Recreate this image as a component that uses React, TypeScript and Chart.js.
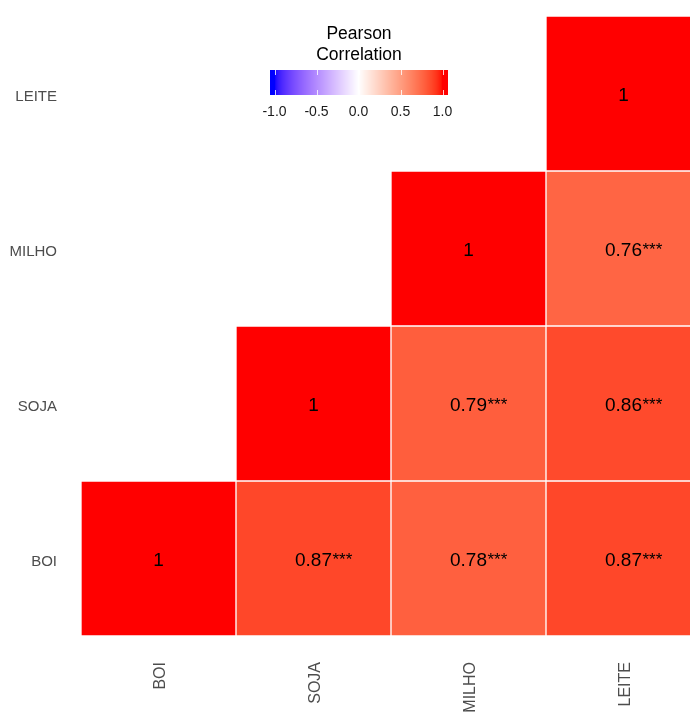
import React, { useEffect, useRef } from "react";
import { Chart, registerables } from "chart.js";

Chart.register(...registerables);

// ---- data ----
const columns = ["BOI", "SOJA", "MILHO", "LEITE"];
const rowNames = ["BOI", "SOJA", "MILHO", "LEITE"];
const corrBOI: (number | null)[] = [1, 0.87, 0.78, 0.87];
const corrSOJA: (number | null)[] = [null, 1, 0.79, 0.86];
const corrMILHO: (number | null)[] = [null, null, 1, 0.76];
const corrLEITE: (number | null)[] = [null, null, null, 1];
const sigBOI = ["", "***", "***", "***"];
const sigSOJA = ["", "", "***", "***"];
const sigMILHO = ["", "", "", "***"];
const sigLEITE = ["", "", "", ""];
const legendTicks = [-1, -0.5, 0, 0.5, 1];
const legendTickLabels = ["-1.0", "-0.5", "0.0", "0.5", "1.0"];
const legendTitle = ["Pearson", "Correlation"];

const rowValues = [corrBOI, corrSOJA, corrMILHO, corrLEITE];
const rowSig = [sigBOI, sigSOJA, sigMILHO, sigLEITE];

// ---- colour (Lab interpolation, blue - white - red) ----
function toLin(c: number) {
  c /= 255;
  return c <= 0.04045 ? c / 12.92 : Math.pow((c + 0.055) / 1.055, 2.4);
}
function toSrgb(c: number) {
  c = Math.min(1, Math.max(0, c));
  const v = c <= 0.0031308 ? 12.92 * c : 1.055 * Math.pow(c, 1 / 2.4) - 0.055;
  return Math.round(v * 255);
}
const Xn = 0.95047, Yn = 1, Zn = 1.08883;
function rgbToLab(r: number, g: number, b: number) {
  const R = toLin(r), G = toLin(g), B = toLin(b);
  const X = 0.4124 * R + 0.3576 * G + 0.1805 * B;
  const Y = 0.2126 * R + 0.7152 * G + 0.0722 * B;
  const Z = 0.0193 * R + 0.1192 * G + 0.9505 * B;
  const f = (t: number) => (t > 0.008856 ? Math.cbrt(t) : 7.787 * t + 16 / 116);
  const fx = f(X / Xn), fy = f(Y / Yn), fz = f(Z / Zn);
  return [116 * fy - 16, 500 * (fx - fy), 200 * (fy - fz)];
}
function labToRgb(L: number, a: number, b: number) {
  const fy = (L + 16) / 116, fx = fy + a / 500, fz = fy - b / 200;
  const fi = (t: number) => (t > 0.206893 ? t * t * t : (t - 16 / 116) / 7.787);
  const X = Xn * fi(fx), Y = Yn * fi(fy), Z = Zn * fi(fz);
  const R = 3.2406 * X - 1.5372 * Y - 0.4986 * Z;
  const G = -0.9689 * X + 1.8758 * Y + 0.0415 * Z;
  const B = 0.0557 * X - 0.204 * Y + 1.057 * Z;
  return `rgb(${toSrgb(R)},${toSrgb(G)},${toSrgb(B)})`;
}
const LAB_LOW = rgbToLab(0, 0, 255);
const LAB_MID = rgbToLab(255, 255, 255);
const LAB_HIGH = rgbToLab(255, 0, 0);
function corrColor(v: number) {
  v = Math.max(-1, Math.min(1, v));
  const end = v >= 0 ? LAB_HIGH : LAB_LOW;
  const t = Math.abs(v);
  return labToRgb(
    LAB_MID[0] + (end[0] - LAB_MID[0]) * t,
    LAB_MID[1] + (end[1] - LAB_MID[1]) * t,
    LAB_MID[2] + (end[2] - LAB_MID[2]) * t
  );
}

const FONT = "'Liberation Sans', Arial, sans-serif";

const cellLabelPlugin = {
  id: "cellLabels",
  afterDatasetsDraw(chart: any) {
    const ctx = chart.ctx;
    const xs = chart.scales.x, ys = chart.scales.y;
    ctx.save();
    ctx.fillStyle = "#000000";
    ctx.textBaseline = "middle";
    rowValues.forEach((vals, i) => {
      vals.forEach((v, j) => {
        if (v == null) return;
        const cx = xs.getPixelForValue(j);
        const cy = ys.getPixelForValue(i) + 2.5;
        const txt = String(v);
        ctx.font = `19px ${FONT}`;
        ctx.textAlign = "center";
        ctx.fillText(txt, cx, cy);
        const sig = rowSig[i][j];
        if (sig) {
          const w = ctx.measureText(txt).width;
          ctx.font = `17px ${FONT}`;
          ctx.textAlign = "left";
          ctx.fillText(sig, cx + w / 2 + 0.5, cy - 1);
        }
      });
    });
    ctx.restore();
  },
};

const colorbarPlugin = {
  id: "colorbar",
  afterDraw(chart: any) {
    const ctx = chart.ctx;
    const barLeft = 270, barRight = 448, barTop = 70, barBottom = 95;
    const vMinPx = 274.5, vMaxPx = 442.5;
    const toPx = (v: number) => vMinPx + ((v + 1) / 2) * (vMaxPx - vMinPx);
    ctx.save();
    // title
    ctx.fillStyle = "#000000";
    ctx.font = `17.5px ${FONT}`;
    ctx.textAlign = "center";
    ctx.textBaseline = "alphabetic";
    ctx.fillText(legendTitle[0], 359, 39);
    ctx.fillText(legendTitle[1], 359, 60);
    // bar
    for (let x = barLeft; x < barRight; x++) {
      const v = ((x + 0.5 - vMinPx) / (vMaxPx - vMinPx)) * 2 - 1;
      ctx.fillStyle = corrColor(v);
      ctx.fillRect(x, barTop, 1, barBottom - barTop);
    }
    // tick marks
    ctx.strokeStyle = "rgba(255,255,255,0.8)";
    ctx.lineWidth = 1;
    legendTicks.forEach((t) => {
      const px = Math.round(toPx(t)) + 0.5;
      ctx.beginPath();
      ctx.moveTo(px, barTop);
      ctx.lineTo(px, barTop + 5);
      ctx.moveTo(px, barBottom - 5);
      ctx.lineTo(px, barBottom);
      ctx.stroke();
    });
    // tick labels
    ctx.fillStyle = "#1A1A1A";
    ctx.font = `14px ${FONT}`;
    ctx.textBaseline = "middle";
    legendTicks.forEach((t, k) => {
      ctx.fillText(legendTickLabels[k], toPx(t), 112);
    });
    ctx.restore();
  },
};

export default function App() {
  const ref = useRef<HTMLCanvasElement | null>(null);
  useEffect(() => {
    document.body.style.margin = "0";
    const canvas = ref.current!;
    const datasets = rowValues.map((vals, i) => ({
      label: rowNames[i],
      data: vals.map((v) => (v == null ? null : [i - 0.5, i + 0.5])),
      backgroundColor: vals.map((v) => (v == null ? "rgba(0,0,0,0)" : corrColor(v))),
      borderColor: "rgba(255,255,255,0.3)",
      borderWidth: 1,
      borderSkipped: false,
      barPercentage: 1,
      categoryPercentage: 1,
      grouped: false,
    }));
    const chart = new Chart(canvas, {
      type: "bar",
      data: { labels: columns, datasets: datasets as any },
      options: {
        responsive: false,
        animation: false,
        devicePixelRatio: 1,
        layout: { padding: { top: 16, right: 9, left: 0, bottom: 0 } },
        plugins: { legend: { display: false }, tooltip: { enabled: false } },
        scales: {
          x: {
            type: "category",
            grid: { display: false, drawTicks: false },
            border: { display: false },
            ticks: {
              autoSkip: false,
              minRotation: 90,
              maxRotation: 90,
              padding: 26,
              labelOffset: 2,
              color: "#4D4D4D",
              font: { size: 16, family: FONT },
            },
            afterFit: (s: any) => {
              s.height = 77;
              s.paddingLeft = 0;
              s.paddingRight = 0;
            },
          },
          y: {
            type: "linear",
            min: -0.5,
            max: 3.5,
            grid: { display: false, drawTicks: false },
            border: { display: false },
            afterBuildTicks: (s: any) => {
              s.ticks = [0, 1, 2, 3].map((v) => ({ value: v }));
            },
            ticks: {
              padding: 24,
              labelOffset: 3,
              color: "#4D4D4D",
              font: { size: 15, family: FONT },
              callback: (v: any) => rowNames[v as number] ?? "",
            },
            afterFit: (s: any) => {
              s.width = 81;
              s.paddingTop = 0;
              s.paddingBottom = 0;
            },
          },
        },
      },
      plugins: [cellLabelPlugin, colorbarPlugin],
    });
    return () => chart.destroy();
  }, []);
  return (
    <div
      style={{
        position: "fixed",
        left: 0,
        top: 0,
        width: 690,
        height: 713,
        overflow: "hidden",
        background: "#ffffff",
      }}
    >
      <canvas ref={ref} width={710} height={713} style={{ display: "block" }} />
    </div>
  );
}
